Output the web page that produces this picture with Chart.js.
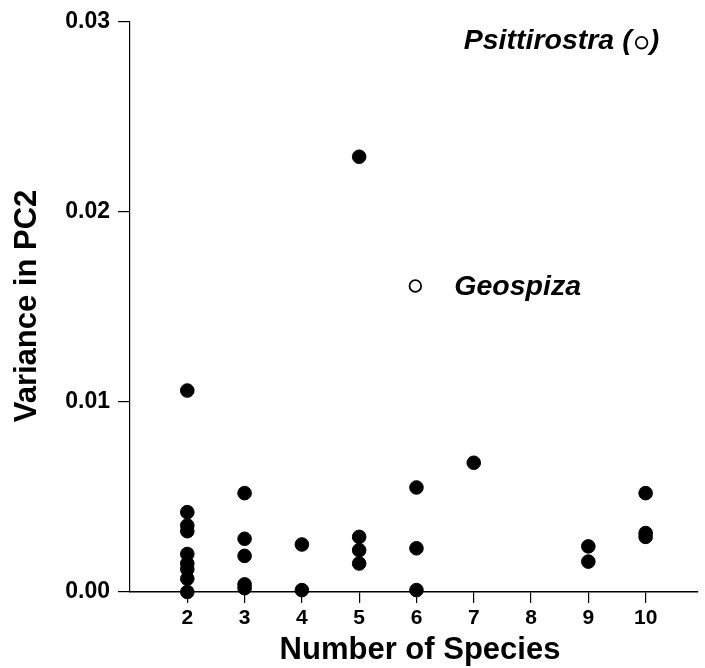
<!DOCTYPE html>
<html>
<head>
<meta charset="utf-8">
<script src="https://cdn.jsdelivr.net/npm/chart.js@4"></script>
<style>
  html, body { margin: 0; padding: 0; background: #fff; }
  #wrap { width: 705px; height: 668px; }
</style>
</head>
<body>
<div id="wrap"><canvas id="c"></canvas></div>
<script>
// filled circles: number of species vs variance in PC2
const speciesCounts = [2, 2, 2, 2, 2, 2, 2, 2, 2,
                       3, 3, 3, 3, 3,
                       4, 4,
                       5, 5, 5, 5,
                       6, 6, 6,
                       7,
                       9, 9,
                       10, 10, 10];
const variances = [0.0106, 0.0042, 0.0035, 0.0032, 0.0020, 0.0015, 0.0012, 0.0007, 0.0000,
                   0.0052, 0.0028, 0.0019, 0.0004, 0.0002,
                   0.0025, 0.0001,
                   0.0229, 0.0029, 0.0022, 0.0015,
                   0.0055, 0.0023, 0.0001,
                   0.0068,
                   0.0024, 0.0016,
                   0.0052, 0.0031, 0.0029];

// open circles (Geospiza, Psittirostra)
const openNames = ['Geospiza', 'Psittirostra'];
const openX = [5.98, 9.93];
const openY = [0.0161, 0.0289];

const xTicks = [2, 3, 4, 5, 6, 7, 8, 9, 10];
const yTicks = [0, 0.01, 0.02, 0.03];

const FONT = "'Liberation Sans', Arial, sans-serif";

const labelsPlugin = {
    id: 'labels',
    afterDraw(chart) {
        const ctx = chart.ctx;
        const meta = chart.getDatasetMeta(1);
        const g = meta.data[0], p = meta.data[1];
        ctx.save();
        ctx.fillStyle = '#000';
        ctx.font = 'italic bold 28.5px ' + FONT;
        ctx.textBaseline = 'middle';
        ctx.textAlign = 'left';
        ctx.fillText(openNames[0], g.x + 39, g.y + 1);
        ctx.textAlign = 'right';
        ctx.fillText(openNames[1] + ' (', p.x - 10, p.y - 2);
        ctx.textAlign = 'left';
        ctx.fillText(')', p.x + 8, p.y - 2);

        // axis titles
        ctx.font = 'bold 31px ' + FONT;
        ctx.textAlign = 'center';
        ctx.textBaseline = 'alphabetic';
        ctx.fillText('Number of Species', 420, 659);
        ctx.translate(36, 306);
        ctx.rotate(-Math.PI / 2);
        ctx.fillText('Variance in PC2', 0, 0);
        ctx.restore();
    }
};

new Chart(document.getElementById('c'), {
    type: 'scatter',
    data: {
        datasets: [
            {
                data: speciesCounts.map((x, i) => ({ x: x, y: variances[i] })),
                backgroundColor: '#000',
                borderColor: '#000',
                pointRadius: 6.8,
                pointHoverRadius: 6.8,
                clip: false
            },
            {
                data: openX.map((x, i) => ({ x: x, y: openY[i] })),
                backgroundColor: '#fff',
                borderColor: '#000',
                borderWidth: 1.8,
                pointRadius: 5.8,
                pointHoverRadius: 5.8,
                clip: false
            }
        ]
    },
    plugins: [labelsPlugin],
    options: {
        responsive: true,
        maintainAspectRatio: false,
        animation: false,
        events: [],
        layout: { padding: { top: 16, right: 0, left: 0, bottom: 0 } },
        plugins: { legend: { display: false }, tooltip: { enabled: false } },
        scales: {
            x: {
                type: 'linear',
                min: 1,
                max: 10.9,
                afterBuildTicks: s => { s.ticks = xTicks.map(v => ({ value: v })); },
                afterFit: s => { s.height = 76; },
                grid: { drawOnChartArea: false, color: '#000', tickLength: 11, lineWidth: 1.2 },
                border: { color: '#000', width: 1.5 },
                ticks: { color: '#000', font: { family: FONT, size: 21, weight: 'bold' }, padding: 3 }
            },
            y: {
                min: 0,
                max: 0.03,
                afterBuildTicks: s => { s.ticks = yTicks.map(v => ({ value: v })); },
                afterFit: s => { s.width = 130; },
                grid: { drawOnChartArea: false, color: '#000', tickLength: 12, lineWidth: 1.2 },
                border: { color: '#000', width: 1.2 },
                ticks: {
                    color: '#000',
                    font: { family: FONT, size: 23, weight: 'bold' },
                    padding: 8,
                    callback: v => v.toFixed(2)
                }
            }
        }
    }
});
</script>
</body>
</html>
